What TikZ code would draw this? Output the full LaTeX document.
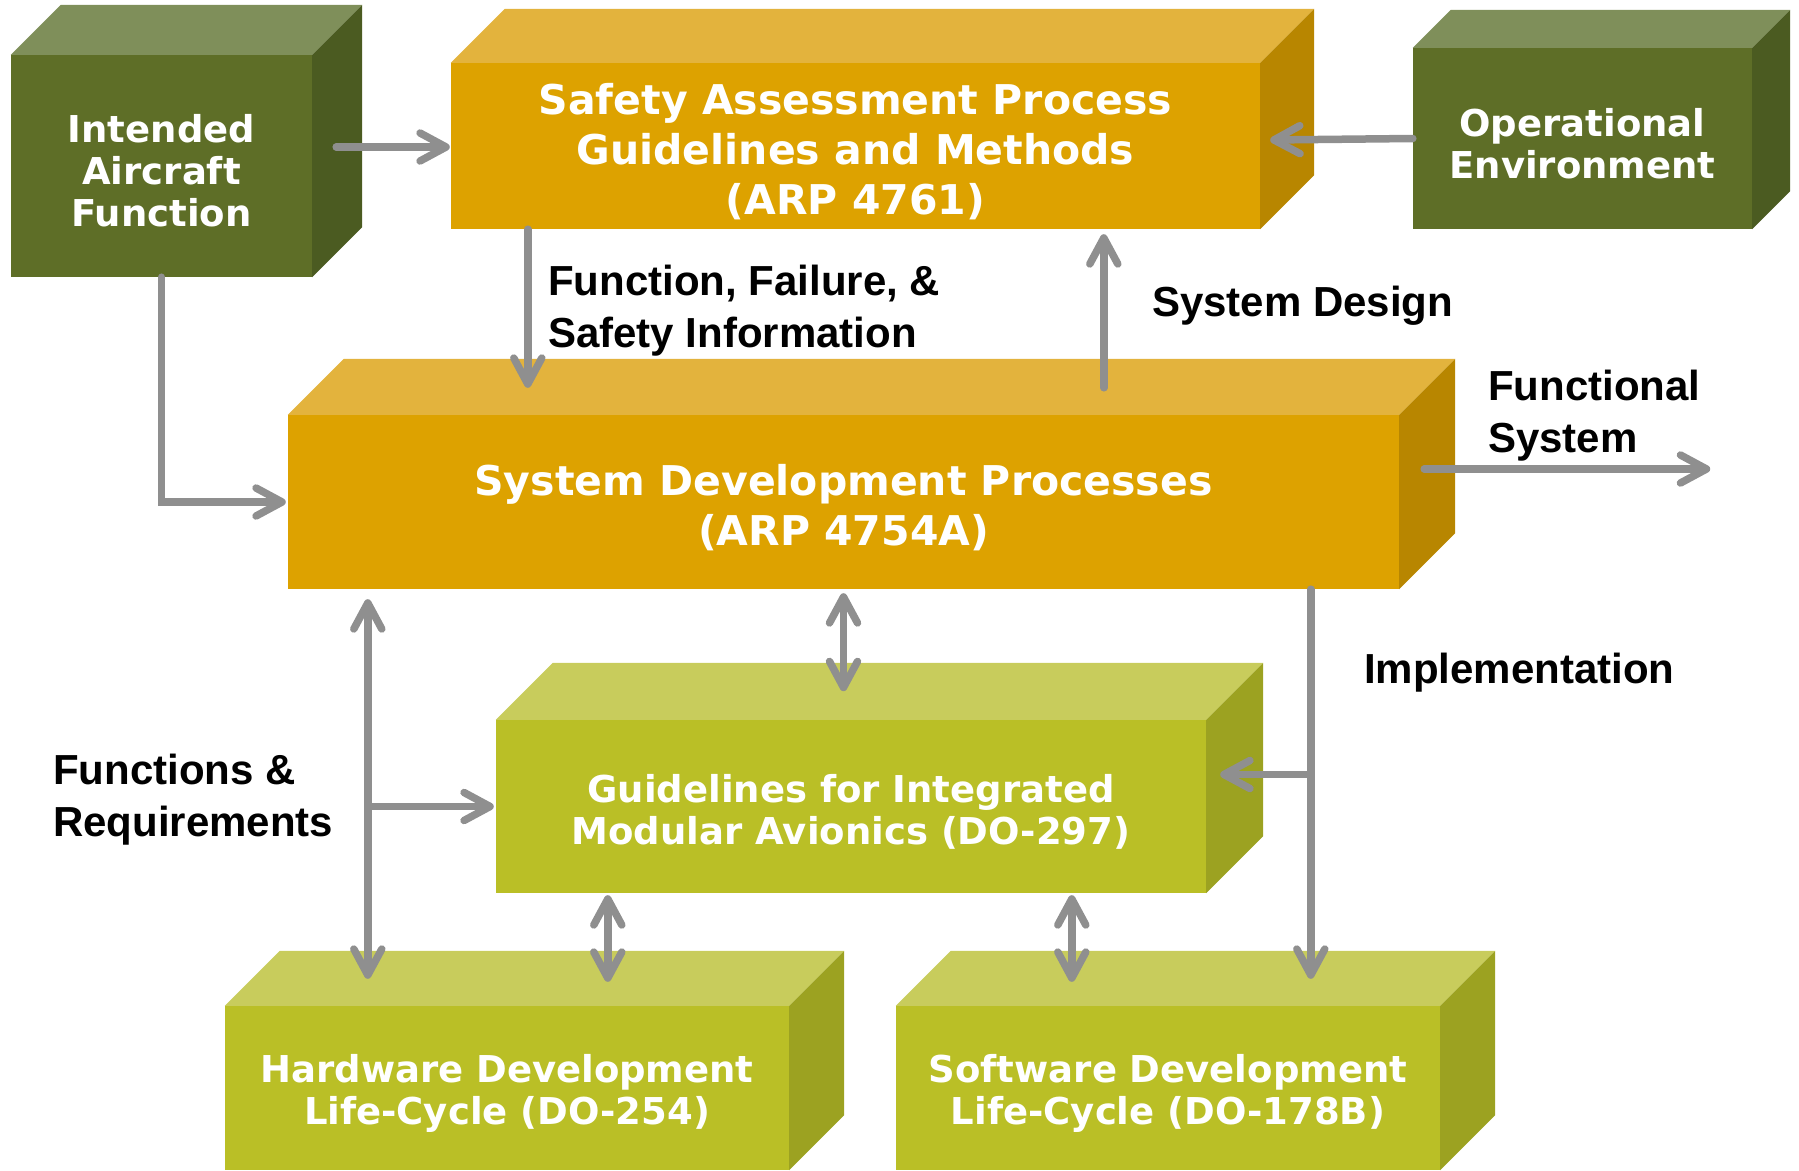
\documentclass[tikz,border=0pt]{standalone}
\usepackage{fontspec}
\setmainfont{Liberation Sans}
\newfontfamily\blockfont{DejaVu Sans}
\usepackage{xcolor}
\usetikzlibrary{arrows.meta}

\definecolor{olivefront}{HTML}{5E6E27}
\definecolor{olivetop}{HTML}{7F8F5A}
\definecolor{oliveside}{HTML}{4B5B21}
\definecolor{amberfront}{HTML}{DDA200}
\definecolor{ambertop}{HTML}{E3B33D}
\definecolor{amberside}{HTML}{B88600}
\definecolor{limefront}{HTML}{BABF26}
\definecolor{limetop}{HTML}{C8CC5C}
\definecolor{limeside}{HTML}{9CA221}
\definecolor{linkgray}{HTML}{8F8F8F}

% top and right faces of a block, drawn behind its front node
\newcommand{\blockfaces}[4]{%
  \fill[#3] (#1.north west) -- ++(#2,-#2) -- ([xshift=#2,yshift=#2]#1.north east) -- (#1.north east) -- cycle;
  \fill[#4] (#1.north east) -- ([xshift=#2,yshift=#2]#1.north east) -- ([xshift=#2,yshift=#2]#1.south east) -- (#1.south east) -- cycle;
}
% tall first line, sets block text a little low
\newcommand{\capstrut}{\rule{0pt}{1.03em}}

\begin{document}
\begin{tikzpicture}[
        x=1pt, y=-1pt,
        block/.style={rectangle, inner sep=0pt, align=center, text=white,
                      font=\blockfont\bfseries\fontsize{37}{42}\selectfont},
        big block/.style={block, font=\blockfont\bfseries\fontsize{41}{50}\selectfont},
        label/.style={anchor=west, align=left, inner sep=0pt,
                      font=\bfseries\fontsize{42}{52}\selectfont},
        barb/.tip={Straight Barb[length=26pt, width=28pt, round]},
        conn/.style={draw=linkgray, line width=7.5pt, line cap=round, -barb},
        dconn/.style={conn, barb-barb}
        ]
\useasboundingbox (0,0) rectangle (1799,1170);

% blocks
\node[block, fill=olivefront, minimum width=301, minimum height=222] (intended) at (161.5,166) {\capstrut Intended\\Aircraft\\Function};
\node[big block, fill=amberfront, minimum width=809, minimum height=166] (safety) at (855.5,146) {\capstrut Safety Assessment Process\\Guidelines and Methods\\(ARP 4761)};
\node[block, fill=olivefront, minimum width=339, minimum height=181] (operat) at (1582.5,138.5) {\capstrut Operational\\Environment};
\node[big block, fill=amberfront, minimum width=1111, minimum height=174] (sysdev) at (843.5,502) {\capstrut System Development Processes\\(ARP 4754A)};
\node[block, fill=limefront, minimum width=710, minimum height=173] (ima) at (851,806.5) {\capstrut Guidelines for Integrated\\Modular Avionics (DO-297)};
\node[block, fill=limefront, minimum width=564, minimum height=164] (hw) at (507,1088) {\capstrut Hardware Development\\Life-Cycle (DO-254)};
\node[block, fill=limefront, minimum width=544, minimum height=164] (sw) at (1168,1088) {\capstrut Software Development\\Life-Cycle (DO-178B)};

\blockfaces{intended}{50}{olivetop}{oliveside}
\blockfaces{safety}{54}{ambertop}{amberside}
\blockfaces{operat}{38}{olivetop}{oliveside}
\blockfaces{sysdev}{56}{ambertop}{amberside}
\blockfaces{ima}{57}{limetop}{limeside}
\blockfaces{hw}{55}{limetop}{limeside}
\blockfaces{sw}{55}{limetop}{limeside}

% connectors
\draw[conn] ([xshift=24,yshift=19]intended.east) -- ([xshift=-1,yshift=-1]safety.west);
\draw[conn] (operat.west) -- ([xshift=10,yshift=6]safety.east);
\draw[conn] ([xshift=77]safety.south west) -- ([xshift=240,yshift=27]sysdev.north west);
\draw[conn] ([xshift=816,yshift=27]sysdev.north west) -- ([xshift=653,yshift=-5]safety.south west);
\draw[conn] (intended.south) |- ([xshift=-2]sysdev.west);
\draw[conn] ([xshift=25,yshift=33]sysdev.east) -- ++(286,0);
\draw[dconn] ([yshift=-4]sysdev.south) -- ++(0,98);
\draw[dconn] ([xshift=80,yshift=-10]sysdev.south west) -- ([xshift=143,yshift=27]hw.north west);
\draw[conn] ([xshift=-128]ima.west) -- ([xshift=-2]ima.west);
\draw[dconn] ([xshift=112,yshift=-2]ima.south west) -- ([xshift=383,yshift=24]hw.north west);
\draw[dconn] ([xshift=576,yshift=-2]ima.south west) -- ([xshift=176,yshift=24]sw.north west);
\draw[conn] ([xshift=1023]sysdev.south west) -- ([xshift=415,yshift=27]sw.north west);
\draw[conn] ([xshift=105,yshift=32]ima.east) -- ([xshift=14,yshift=32]ima.east);

% labels
\node[label] (failinfo) at (548,311) {Function, Failure, \&\\Safety Information};
\node[label] (sysdesign) at (1152,306) {System Design};
\node[label] (funcsys) at (1488,416) {Functional\\System};
\node[label] (implem) at (1364,673) {Implementation};
\node[label] (funcreq) at (53,800) {Functions \&\\Requirements};
\end{tikzpicture}
\end{document}
